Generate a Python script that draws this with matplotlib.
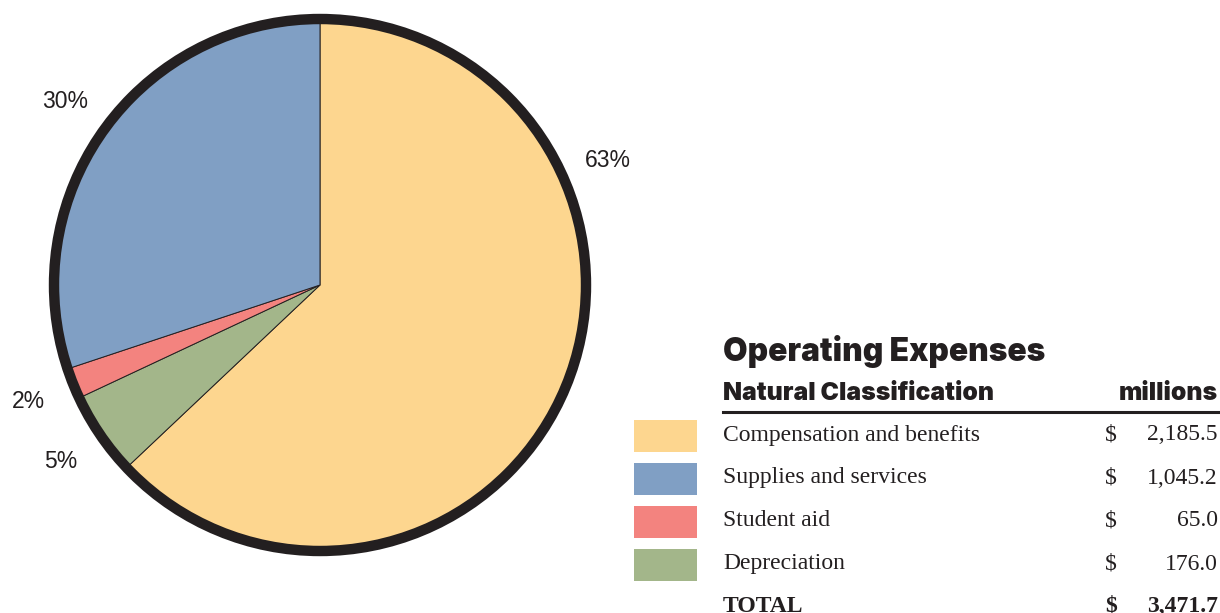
import numpy as np
import matplotlib.pyplot as plt
from matplotlib.patches import Circle, Rectangle

# Operating expenses, natural classification (millions)
categories = ['Compensation and benefits', 'Supplies and services', 'Student aid', 'Depreciation']
amounts = [2185.5, 1045.2, 65.0, 176.0]
colors = ['#FDD68F', '#809FC4', '#F3837F', '#A3B68A']

# pie goes clockwise from the top: compensation, depreciation, student aid, supplies
pie_order = [0, 3, 2, 1]

W, H = 1220, 613
fig = plt.figure(figsize=(W / 100, H / 100), dpi=100)


def fx(px):
    return px / W


def fy(py):
    return 1 - py / H


# ---------------------------------------------------------------------------
# pie
R = 266
ax = fig.add_axes([fx(48), fy(557), fx(544), 544 / H])

vals = [amounts[i] for i in pie_order]
cols = [colors[i] for i in pie_order]
wedges, _ = ax.pie(vals, colors=cols, startangle=90, counterclock=False, radius=R,
                   wedgeprops=dict(edgecolor='#231F20', linewidth=0.7))
ax.add_patch(Circle((0, 0), R, fill=False, edgecolor='#231F20', linewidth=7.5, zorder=5))
ax.set_xlim(-272, 272)
ax.set_ylim(-272, 272)
ax.set_aspect('equal')
ax.axis('off')

total = sum(amounts)
for w, i in zip(wedges, pie_order):
    ang = (w.theta1 + w.theta2) / 2
    if i == 0:
        ang = -ang  # big slice label sits up on the right
    rr = 1.18 * R
    ax.text(rr * np.cos(np.radians(ang)), rr * np.sin(np.radians(ang)),
            '%d%%' % round(amounts[i] / total * 100), clip_on=False,
            ha='center', va='center', fontsize=16.5, family='Liberation Sans', color='#231F20')

# ---------------------------------------------------------------------------
# table
heavy = ['Inter', 'Roboto', 'Liberation Sans']
serif = 'Liberation Serif'
fs = 17
fig.text(fx(723), fy(361), 'Operating Expenses', fontsize=22.8, fontweight='black',
         family=heavy, color='#231F20', va='baseline')
fig.text(fx(723), fy(400), 'Natural Classification', fontsize=17.8, fontweight='black',
         family=heavy, color='#231F20', va='baseline')
fig.text(fx(1218), fy(400), 'millions', fontsize=17.8, fontweight='black',
         family=heavy, color='#231F20', va='baseline', ha='right')
fig.add_artist(plt.Line2D([fx(723), fx(1220)], [fy(412), fy(412)], color='#231F20', linewidth=2.2))

row_y = [435, 478, 521, 564]
for k, i in enumerate([0, 1, 2, 3]):
    y = row_y[k]
    fig.add_artist(Rectangle((fx(634), fy(y + 17)), fx(63), 32 / H,
                             facecolor=colors[i], edgecolor='none'))
    fig.text(fx(723), fy(y), categories[i], fontsize=fs, family=serif,
             color='#231F20', va='center')
    fig.text(fx(1111), fy(y), '$', fontsize=fs, family=serif, color='#231F20',
             va='center', ha='center')
    fig.text(fx(1218), fy(y), '{:,.1f}'.format(amounts[i]), fontsize=fs, family=serif,
             color='#231F20', va='center', ha='right')

fig.text(fx(723), fy(606), 'TOTAL', fontsize=fs, family=serif, fontweight='bold',
         color='#231F20', va='center')
fig.text(fx(1111), fy(606), '$', fontsize=fs, family=serif, fontweight='bold',
         color='#231F20', va='center', ha='center')
fig.text(fx(1218), fy(606), '{:,.1f}'.format(total), fontsize=fs, family=serif,
         fontweight='bold', color='#231F20', va='center', ha='right')

fig.savefig('out.png', dpi=100, facecolor='white')
